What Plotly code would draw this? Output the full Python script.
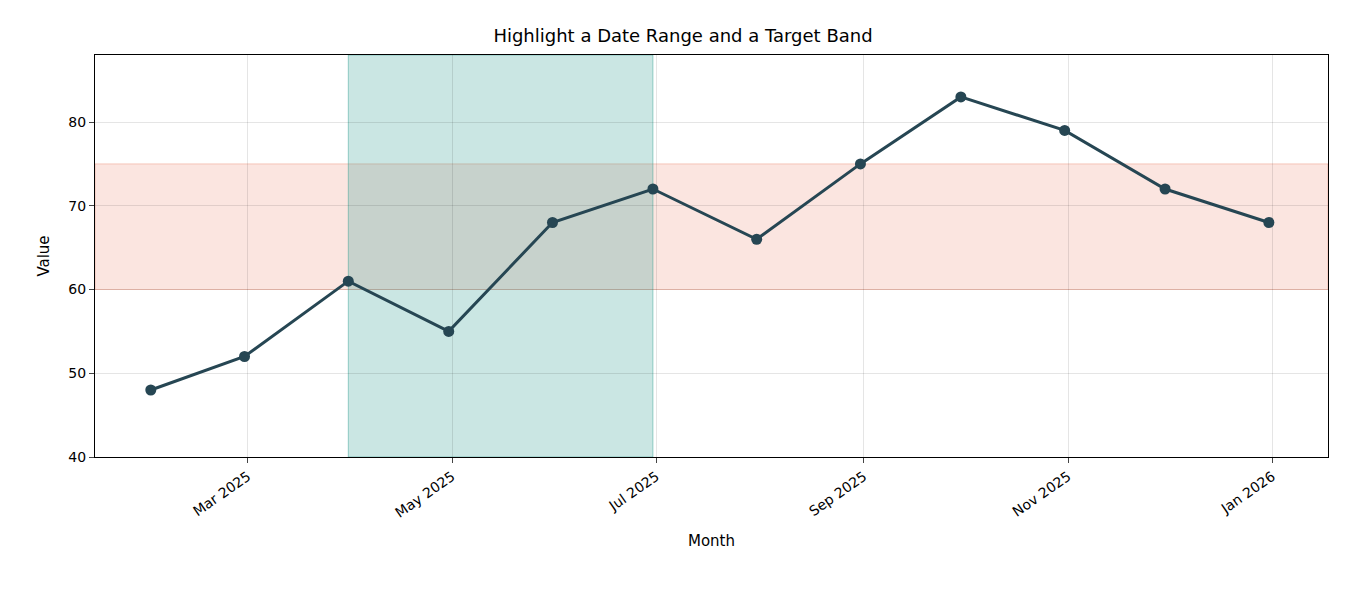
import plotly.graph_objects as go

months = ["2025-01-31", "2025-02-28", "2025-03-31", "2025-04-30", "2025-05-31", "2025-06-30",
          "2025-07-31", "2025-08-31", "2025-09-30", "2025-10-31", "2025-11-30", "2025-12-31"]
values = [48, 52, 61, 55, 68, 72, 66, 75, 83, 79, 72, 68]
range_start, range_end = "2025-03-31", "2025-06-30"
band_low, band_high = 60, 75
tick_dates = ["2025-03-01", "2025-05-01", "2025-07-01", "2025-09-01", "2025-11-01", "2026-01-01"]
tick_labels = ["Mar 2025", "May 2025", "Jul 2025", "Sep 2025", "Nov 2025", "Jan 2026"]

fig = go.Figure()
fig.add_hrect(y0=band_low, y1=band_high, fillcolor="rgba(231,111,81,0.18)",
              line=dict(color="rgba(231,111,81,0.35)", width=1), layer="below")
fig.add_vrect(x0=range_start, x1=range_end, fillcolor="rgba(42,157,143,0.25)",
              line=dict(color="rgba(42,157,143,0.45)", width=1), layer="below")
fig.add_trace(go.Scatter(x=months, y=values, mode="lines+markers",
                         line=dict(color="#264653", width=3),
                         marker=dict(size=11, color="#264653")))

axis = dict(showline=True, linecolor="black", linewidth=1, mirror=True,
            gridcolor="rgba(0,0,0,0.1)", ticks="outside", ticklen=5,
            tickfont=dict(size=14, color="black"), zeroline=False)
fig.update_layout(
    width=1350, height=600, showlegend=False,
    plot_bgcolor="white", paper_bgcolor="white",
    font=dict(family="DejaVu Sans", color="black"),
    title=dict(text="Highlight a Date Range and a Target Band", x=0.5, y=0.965,
               xanchor="center", font=dict(size=18)),
    margin=dict(l=87, r=30, t=47, b=151),
    xaxis=dict(axis, range=["2025-01-14 08:00", "2026-01-17 16:00"],
               tickvals=tick_dates, ticktext=tick_labels, tickangle=-35,
               title=dict(text="Month", font=dict(size=15))),
    yaxis=dict(axis, range=[40, 88], tickvals=[40, 50, 60, 70, 80],
               title=dict(text="Value", font=dict(size=15))),
)
fig.write_html("out.html")
